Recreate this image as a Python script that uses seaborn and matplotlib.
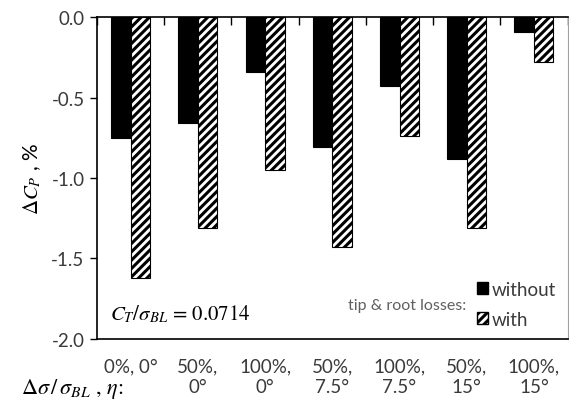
import numpy as np
import pandas as pd
import matplotlib
matplotlib.use("Agg")
import matplotlib.pyplot as plt
import matplotlib.patches as mpatches
import seaborn as sns

# Blade configurations: twist change and pitch angle
categories = ["0%, 0°", "50%,\n0°", "100%,\n0°", "50%,\n7.5°",
              "100%,\n7.5°", "50%,\n15°", "100%,\n15°"]
loss_models = ["without", "with"]
dcp_without = [-0.75, -0.66, -0.34, -0.81, -0.43, -0.88, -0.09]
dcp_with = [-1.62, -1.31, -0.95, -1.43, -0.74, -1.31, -0.28]
yticks = [0.0, -0.5, -1.0, -1.5, -2.0]

df = pd.DataFrame({
    "config": categories * 2,
    "losses": [loss_models[0]] * len(categories) + [loss_models[1]] * len(categories),
    "dcp": dcp_without + dcp_with,
})

sns.set_theme(style="white")
plt.rcParams["font.family"] = ["Lato", "DejaVu Sans"]
plt.rcParams["mathtext.fontset"] = "stix"
plt.rcParams["hatch.linewidth"] = 2.2

text_gray = "#3a3a3a"

fig = plt.figure(figsize=(5.69, 4.06), dpi=100)
ax = fig.add_axes([0.1705, 0.1626, 0.827, 0.793])

sns.barplot(data=df, x="config", y="dcp", hue="losses", order=categories,
            hue_order=loss_models, palette=["black", "white"], width=0.58,
            gap=0, edgecolor="black", linewidth=0.8, legend=False, ax=ax)

# Hatch the bars of the "with" series
n = len(categories)
for i, bar in enumerate(ax.patches[:2 * n]):
    if i >= n:
        bar.set_hatch("////")
        bar.set_facecolor("white")
        bar.set_edgecolor("black")

ax.set_xlim(-0.5, n - 0.5)
ax.set_ylim(-2.0, 0.0)
ax.set_yticks(yticks)
ax.set_yticklabels([f"{v:.1f}" for v in yticks])
ax.set_xlabel("")
ax.set_ylabel(r"$\Delta C_P$ , %", fontsize=15, color="black", labelpad=6)

for side in ["left", "top", "bottom"]:
    ax.spines[side].set_visible(True)
    ax.spines[side].set_color("black")
    ax.spines[side].set_linewidth(1.2)
ax.spines["right"].set_visible(True)
ax.spines["right"].set_color("#a0a0a0")
ax.spines["right"].set_linewidth(0.8)

ax.tick_params(axis="y", which="major", left=True, direction="out", length=5,
               width=1, color="black", labelsize=13.5, labelcolor=text_gray, pad=4)
ax.tick_params(axis="x", which="major", bottom=False, top=False,
               labelsize=13.5, labelcolor=text_gray, pad=7)
for lbl in ax.get_xticklabels():
    lbl.set_verticalalignment("top")
    lbl.set_linespacing(1.3)

# Category separators hanging from the zero line
ax.set_xticks(np.arange(-0.5, n, 1.0), minor=True)
ax.tick_params(axis="x", which="minor", top=True, bottom=False, direction="in",
               length=6, width=1, color="black")

ax.text(0.027, 0.06, r"$C_T/\sigma_{BL}$ = 0.0714", transform=ax.transAxes,
        fontsize=15, color="black", family="STIXGeneral")

fig.text(0.037, 0.03, r"$\Delta\sigma\,/\,\sigma_{BL}$ , $\eta$:", fontsize=16,
         color="black", family="STIXGeneral")

ax.text(0.785, 0.105, "tip & root losses:", transform=ax.transAxes,
        fontsize=11.5, color="#606060", ha="right", va="center")

handles = [mpatches.Patch(facecolor="black", edgecolor="black", label="without"),
           mpatches.Patch(facecolor="white", edgecolor="black", hatch="////",
                          label="with")]
leg = ax.legend(handles=handles, loc="lower right", bbox_to_anchor=(1.0, 0.0),
                frameon=False, fontsize=13.5, handlelength=0.6, handleheight=0.6,
                handletextpad=0.2, labelspacing=0.7, borderaxespad=0.2)
for t in leg.get_texts():
    t.set_color(text_gray)

fig.savefig("out.png", dpi=100)
